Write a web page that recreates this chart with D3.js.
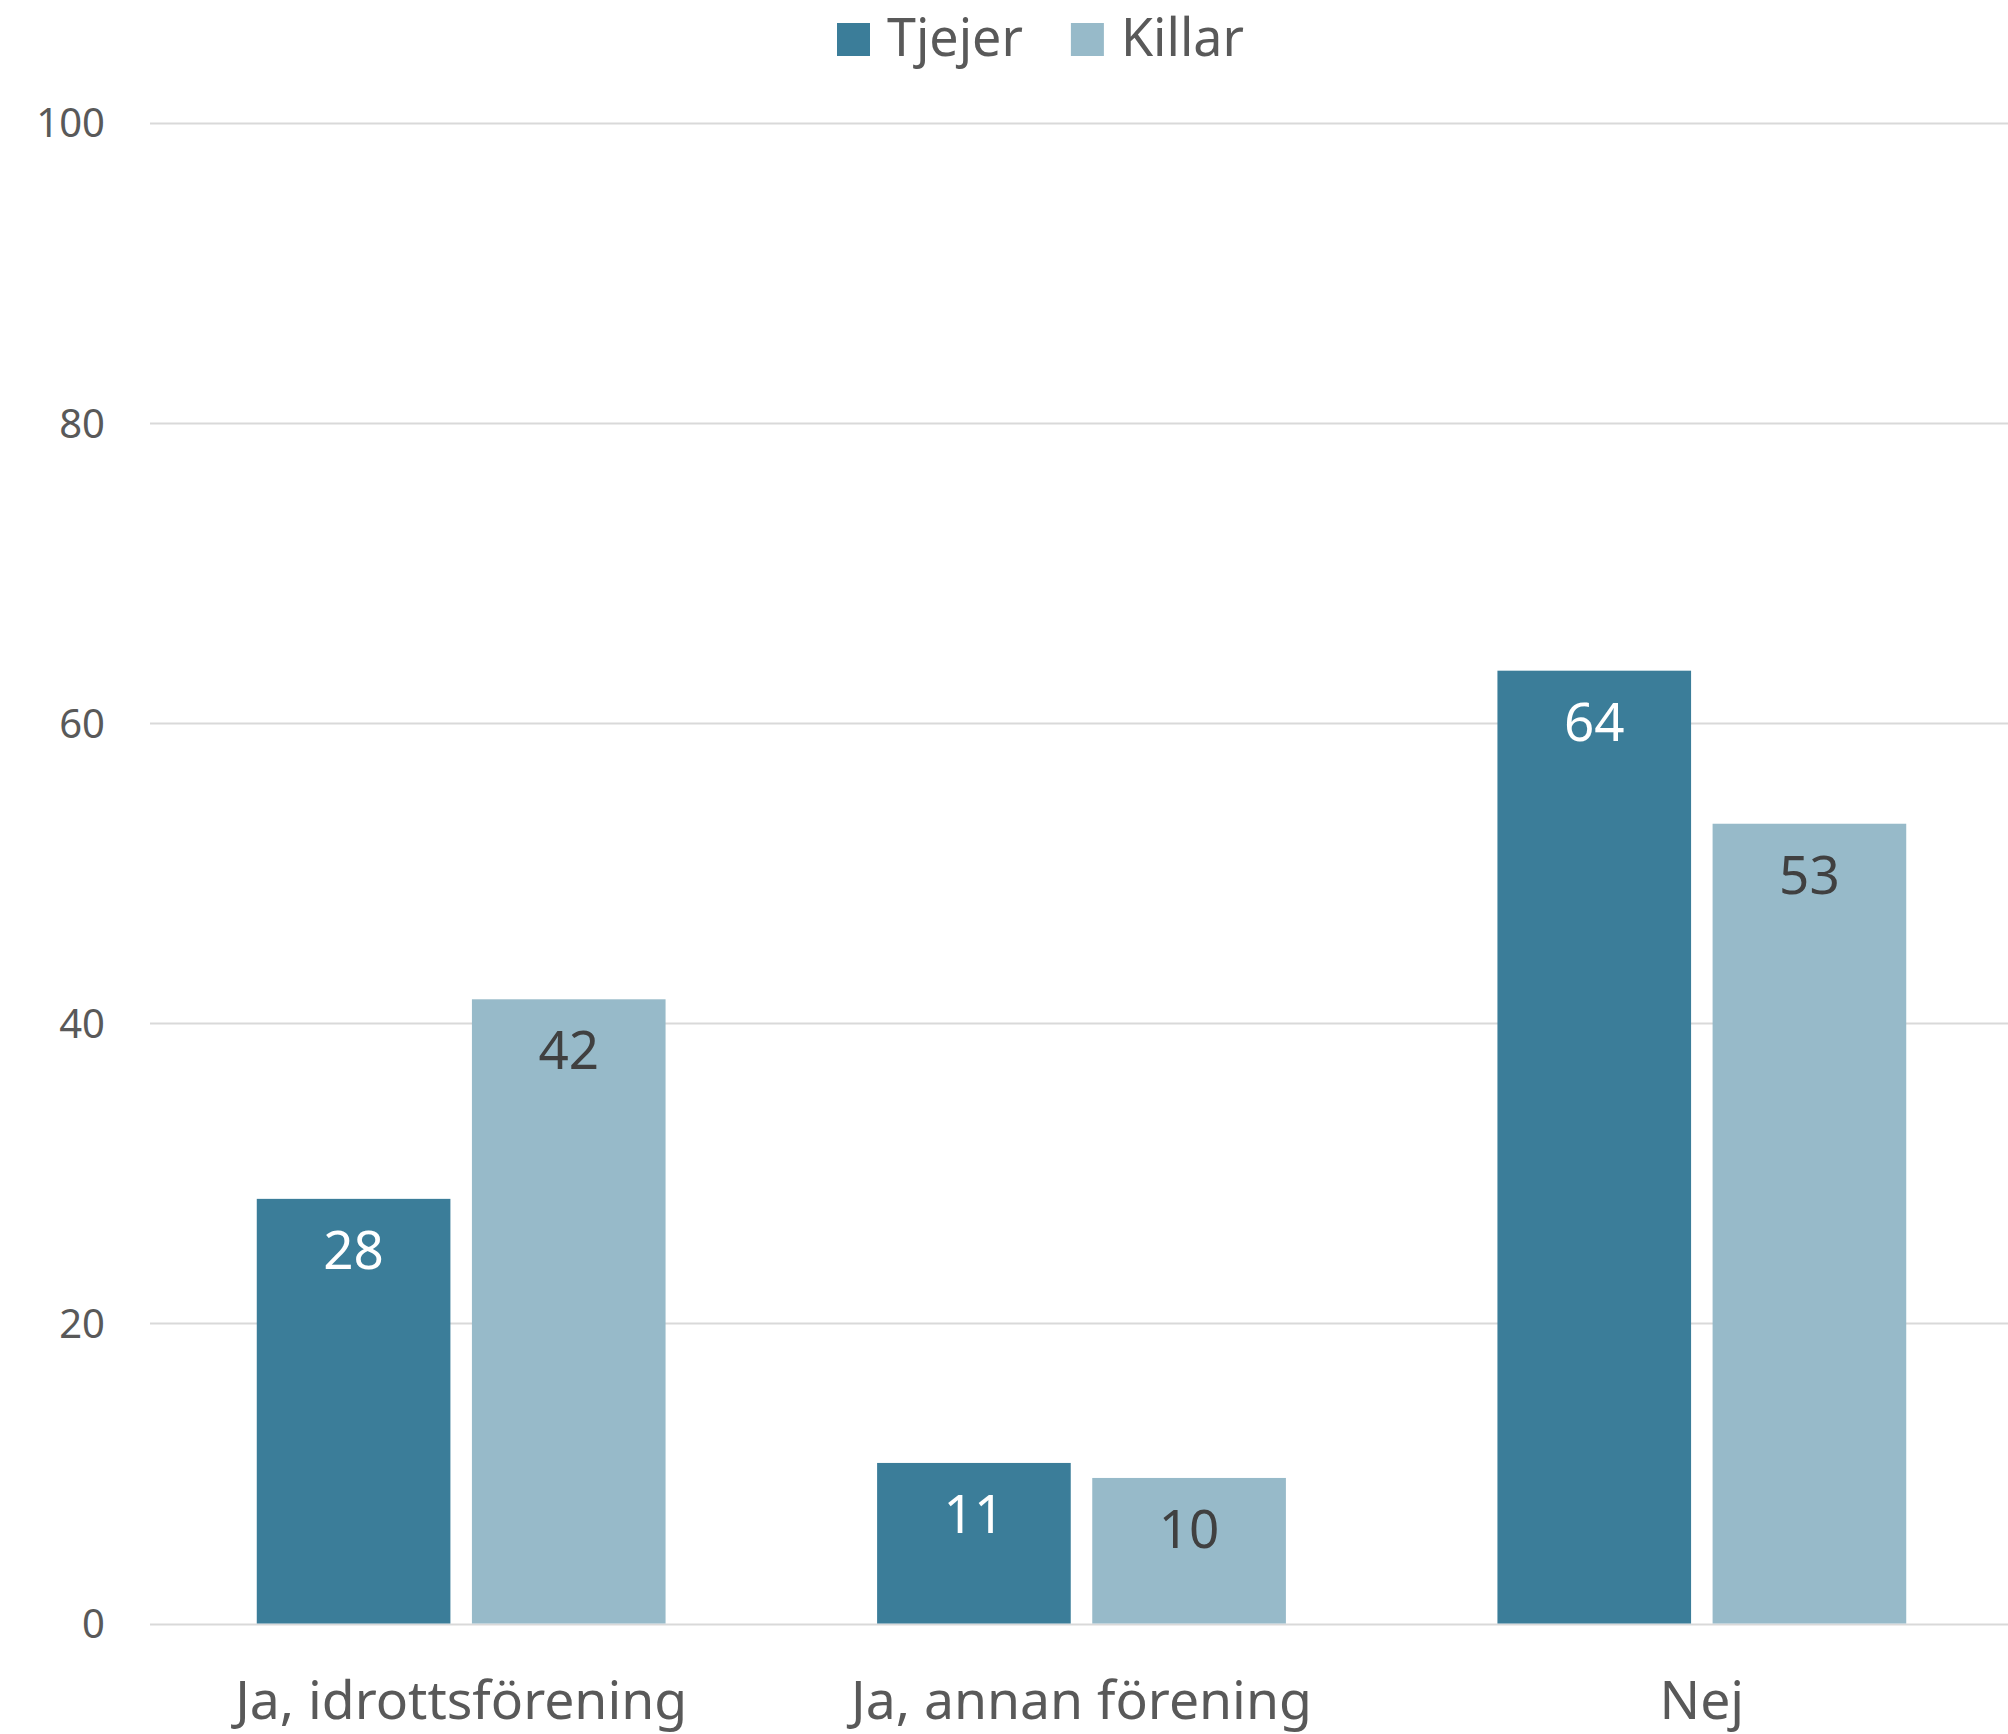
<html lang="sv">
<head>
<meta charset="UTF-8">
<script src="https://d3js.org/d3.v7.min.js"></script>
<style>
  body { margin: 0; background: #fff; }
  text { font-family: "Noto Sans", "Open Sans", sans-serif; }
</style>
</head>
<body>
<script>
// data
const categories = ["Ja, idrottsförening", "Ja, annan förening", "Nej"];
const series = ["Tjejer", "Killar"];
const tjejer = [28.3, 10.7, 63.5];
const killar = [41.6, 9.7, 53.3];
const yTicks = [0, 20, 40, 60, 80, 100];
const colors = ["#3b7d99", "#97bac9"];
const labelColors = ["#ffffff", "#404040"];

const width = 2008, height = 1734;
const margin = {top: 123, right: 0, bottom: 110, left: 150};

const svg = d3.select("body").append("svg")
    .attr("width", width)
    .attr("height", height);

const y = d3.scaleLinear()
    .domain([0, 100])
    .range([height - margin.bottom - 0.5, margin.top]);

// band range runs a little past the right edge, as in the original
const x0 = d3.scaleBand()
    .domain(categories)
    .range([margin.left + 1, width + 4])
    .paddingInner(0.341)
    .paddingOuter(0.1705);

const x1 = d3.scaleBand()
    .domain(series)
    .range([0, x0.bandwidth()])
    .paddingInner(0.1);

// gridlines
svg.append("g")
    .selectAll("line")
    .data(yTicks)
    .join("line")
    .attr("x1", margin.left)
    .attr("x2", width - margin.right)
    .attr("y1", d => Math.round(y(d)) + 0.5)
    .attr("y2", d => Math.round(y(d)) + 0.5)
    .attr("stroke", "#d9d9d9")
    .attr("stroke-width", 2);

// y tick labels
svg.append("g")
    .selectAll("text")
    .data(yTicks)
    .join("text")
    .attr("x", 105)
    .attr("y", d => y(d))
    .attr("dy", "0.36em")
    .attr("text-anchor", "end")
    .attr("font-size", 40)
    .attr("fill", "#595959")
    .text(d => d);

const rows = categories.map((c, i) => ({cat: c, values: [tjejer[i], killar[i]]}));

const groups = svg.append("g")
    .selectAll("g")
    .data(rows)
    .join("g")
    .attr("transform", d => `translate(${x0(d.cat)},0)`);

groups.selectAll("rect")
    .data(d => d.values.map((v, j) => ({s: series[j], j: j, v: v})))
    .join("rect")
    .attr("x", d => x1(d.s))
    .attr("width", x1.bandwidth())
    .attr("y", d => y(d.v))
    .attr("height", d => y(0) - y(d.v))
    .attr("fill", d => colors[d.j]);

groups.selectAll("text")
    .data(d => d.values.map((v, j) => ({s: series[j], j: j, v: v})))
    .join("text")
    .attr("x", d => x1(d.s) + x1.bandwidth() / 2)
    .attr("y", d => y(d.v) + 70)
    .attr("text-anchor", "middle")
    .attr("font-size", 53)
    .attr("fill", d => labelColors[d.j])
    .text(d => Math.round(d.v));

// category labels
svg.append("g")
    .selectAll("text")
    .data(categories)
    .join("text")
    .attr("x", d => x0(d) + x0.bandwidth() / 2)
    .attr("y", 1719)
    .attr("text-anchor", "middle")
    .attr("font-size", 53.5)
    .attr("fill", "#595959")
    .text(d => d);

// legend
const legend = svg.append("g");
let lx = 837;
series.forEach((s, i) => {
    legend.append("rect")
        .attr("x", lx)
        .attr("y", 23)
        .attr("width", 33)
        .attr("height", 33)
        .attr("fill", colors[i]);
    const t = legend.append("text")
        .attr("x", lx + 50)
        .attr("y", 56)
        .attr("font-size", 52)
        .attr("fill", "#595959")
        .text(s);
    lx += 50 + t.node().getComputedTextLength() + 48;
});
</script>
</body>
</html>
